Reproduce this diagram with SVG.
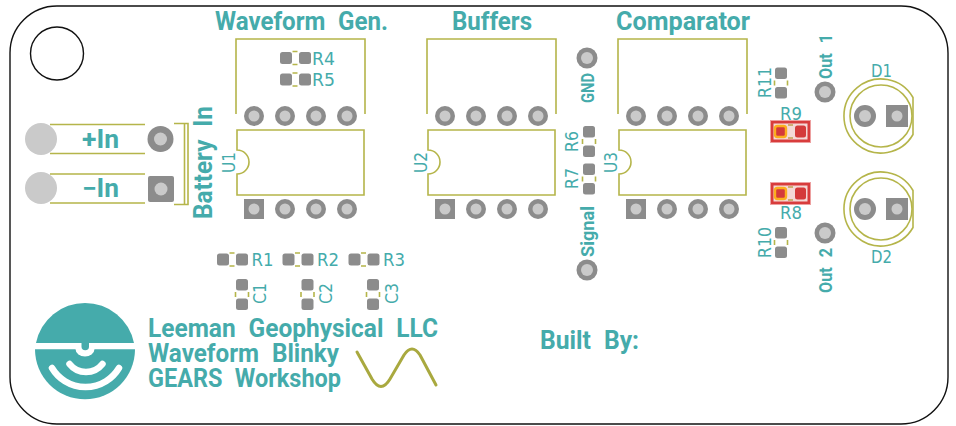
<svg xmlns="http://www.w3.org/2000/svg" width="956" height="426" viewBox="0 0 956 426">
<style>
.out{fill:none;stroke:#111;stroke-width:1.4}
.silk{fill:none;stroke:#b5b54a;stroke-width:1.6}
.wave{fill:none;stroke:#a9a93f;stroke-width:3;stroke-linecap:round;stroke-linejoin:round}
.pad{fill:#8c8c8c}
.hole{fill:#cacaca}
.t{fill:#45abab;font-family:"DejaVu Sans",sans-serif}
.b{font-weight:bold;font-family:"Roboto","Noto Sans",sans-serif;word-spacing:7px}
.big{font-size:25px}
.mid{font-size:19px}
.ref{font-size:18px}
</style>
<defs>
<g id="th"><circle r="10" class="pad"/><circle r="5.5" class="hole"/></g>
<g id="sq"><rect x="-10" y="-10" width="20" height="20" class="pad"/><circle r="5.5" class="hole"/></g>
<g id="tp"><circle r="10.5" class="pad"/><circle r="6" class="hole"/></g>
<g id="rh"><rect x="-15" y="-6" width="12" height="12" rx="2.5" class="pad"/><rect x="4" y="-6" width="12" height="12" rx="2.5" class="pad"/><path d="M-2.500 -6.500H2.500M-2.500 6.500H2.500" class="silk"/></g>
<g id="rv"><rect x="-6" y="-15.500" width="12" height="11.500" rx="2.5" class="pad"/><rect x="-6" y="4" width="12" height="11.500" rx="2.5" class="pad"/><path d="M-6.500 -2.500V2.500M6.500 -2.500V2.500" class="silk"/></g>
<g id="red"><rect x="-21" y="-11.500" width="41" height="23" fill="#eda0a0"/><rect x="-20" y="-10.500" width="39" height="21" fill="#d83c3c"/><rect x="-17.500" y="-8" width="34" height="16" fill="#f4d8d6"/><rect x="-16" y="-5.500" width="11" height="11" rx="2.500" fill="#d43a3a" stroke="#fcae1e" stroke-width="2.400"/><rect x="4" y="-6" width="11" height="12" rx="2.500" fill="#d43a3a"/><path d="M-3 -6.500H2M-3 6.500H2" stroke="#c0a050" stroke-width="1.500" fill="none"/></g>
<g id="dip">
<path d="M0 75V0H129V75" class="silk" transform="translate(-1 -128)"/>
<path d="M0 -37H127V28H0V7A12 12 0 0 0 0 -17Z" class="silk"/>
<use href="#sq" x="17" y="42"/><use href="#th" x="48" y="42"/><use href="#th" x="79" y="42"/><use href="#th" x="110" y="42"/>
<use href="#th" x="17" y="-51"/><use href="#th" x="48" y="-51"/><use href="#th" x="79" y="-51"/><use href="#th" x="110" y="-51"/>
</g>
<g id="led"><path d="M32 -18.500A37 37 0 1 0 32 18.500Z" class="silk"/><circle r="31" class="silk"/><circle cx="-16" r="11" class="pad"/><circle cx="-16" r="6" class="hole"/><rect x="5" y="-11" width="22" height="22" class="pad"/><circle cx="16" r="5.500" class="hole"/></g>
</defs>
<rect width="956" height="426" fill="#fff"/>
<g id="board">
<path d="M57 6H901A47 47 0 0 1 948 53V377A47 47 0 0 1 901 424H57A47 47 0 0 1 10 377V53A47 47 0 0 1 57 6Z" class="out"/>
<circle cx="57" cy="53.500" r="26.500" class="out"/>
</g>
<g id="connectors"></g>
<g id="U1"><use href="#dip" x="237" y="167"/><text class="t ref" transform="translate(235 173) rotate(-90)" textLength="21" lengthAdjust="spacingAndGlyphs">U1</text></g>
<g id="U2"><use href="#dip" x="428" y="167"/><text class="t ref" transform="translate(427 173) rotate(-90)" textLength="21" lengthAdjust="spacingAndGlyphs">U2</text></g>
<g id="U3"><use href="#dip" x="619" y="167"/><text class="t ref" transform="translate(617 173) rotate(-90)" textLength="21" lengthAdjust="spacingAndGlyphs">U3</text></g>
<g id="titles" class="t b big">
<text x="215" y="30" textLength="173" lengthAdjust="spacingAndGlyphs">Waveform Gen.</text>
<text x="452" y="30" textLength="80" lengthAdjust="spacingAndGlyphs">Buffers</text>
<text x="616" y="30" textLength="134" lengthAdjust="spacingAndGlyphs">Comparator</text>
</g>
<g id="battery">
<circle cx="41" cy="139" r="16" class="hole"/><circle cx="41" cy="188" r="16" class="hole"/>
<path d="M50 124.500H145M50 153.500H145M50 174H145M50 203H145M174 123.500H188V204.500H174M184.500 123.500V204.500" class="silk"/>
<circle cx="160.500" cy="139" r="13" class="pad"/><circle cx="160.500" cy="139" r="6.500" class="hole"/>
<rect x="148" y="176" width="26" height="26" rx="2" class="pad"/><circle cx="161" cy="189" r="6.500" class="hole"/>
<text class="t b big" x="82" y="148" textLength="37" lengthAdjust="spacingAndGlyphs">+In</text>
<text class="t b big" x="82" y="196.500" textLength="37" lengthAdjust="spacingAndGlyphs">−In</text>
<text class="t b big" transform="translate(212 219) rotate(-90)" textLength="113" lengthAdjust="spacingAndGlyphs">Battery In</text>
</g>
<g id="R4"><use href="#rh" x="295" y="58"/><text class="t ref" x="312" y="64.500" textLength="23" lengthAdjust="spacingAndGlyphs">R4</text></g>
<g id="R5"><use href="#rh" x="295" y="79.500"/><text class="t ref" x="312" y="86" textLength="23" lengthAdjust="spacingAndGlyphs">R5</text></g>
<g id="R1"><use href="#rh" x="232" y="259.500"/><text class="t ref" x="251.500" y="266" textLength="22" lengthAdjust="spacingAndGlyphs">R1</text></g>
<g id="R2"><use href="#rh" x="297.500" y="259.500"/><text class="t ref" x="317" y="266" textLength="22" lengthAdjust="spacingAndGlyphs">R2</text></g>
<g id="R3"><use href="#rh" x="363.500" y="259.500"/><text class="t ref" x="383" y="266" textLength="22" lengthAdjust="spacingAndGlyphs">R3</text></g>
<g id="C1"><use href="#rv" x="242" y="294.500"/><text class="t ref" transform="translate(266 304) rotate(-90)" textLength="21" lengthAdjust="spacingAndGlyphs">C1</text></g>
<g id="C2"><use href="#rv" x="307.500" y="294.500"/><text class="t ref" transform="translate(331.500 304) rotate(-90)" textLength="21" lengthAdjust="spacingAndGlyphs">C2</text></g>
<g id="C3"><use href="#rv" x="373" y="294.500"/><text class="t ref" transform="translate(398 304) rotate(-90)" textLength="21" lengthAdjust="spacingAndGlyphs">C3</text></g>
<g id="R6"><use href="#rv" x="589" y="141.500"/><text class="t ref" transform="translate(578 152) rotate(-90)" textLength="21" lengthAdjust="spacingAndGlyphs">R6</text></g>
<g id="R7"><use href="#rv" x="589" y="179"/><text class="t ref" transform="translate(578 189) rotate(-90)" textLength="21" lengthAdjust="spacingAndGlyphs">R7</text></g>
<g id="GND"><use href="#tp" x="587" y="58"/><text class="t b mid" transform="translate(594 103) rotate(-90)" textLength="30" lengthAdjust="spacingAndGlyphs">GND</text></g>
<g id="Signal"><use href="#tp" x="587" y="270"/><text class="t b mid" transform="translate(594 257) rotate(-90)" textLength="51" lengthAdjust="spacingAndGlyphs">Signal</text></g>
<g id="R11"><use href="#rv" x="781" y="83"/><text class="t ref" transform="translate(771 98) rotate(-90)" textLength="31" lengthAdjust="spacingAndGlyphs">R11</text></g>
<g id="R10"><use href="#rv" x="781" y="242.500"/><text class="t ref" transform="translate(771 258) rotate(-90)" textLength="31" lengthAdjust="spacingAndGlyphs">R10</text></g>
<g id="R9"><use href="#red" x="791" y="131.500"/><text class="t ref" x="780" y="120" textLength="22" lengthAdjust="spacingAndGlyphs">R9</text></g>
<g id="R8"><use href="#red" x="791" y="193.500"/><text class="t ref" x="780" y="219" textLength="22" lengthAdjust="spacingAndGlyphs">R8</text></g>
<g id="Out1"><use href="#tp" x="825" y="92"/><text class="t b mid" transform="translate(832 79) rotate(-90)" textLength="45" lengthAdjust="spacingAndGlyphs">Out 1</text></g>
<g id="Out2"><use href="#tp" x="825" y="233"/><text class="t b mid" transform="translate(832 293) rotate(-90)" textLength="45" lengthAdjust="spacingAndGlyphs">Out 2</text></g>
<g id="D1"><use href="#led" x="881" y="116"/><text class="t ref" x="871" y="76.500" textLength="21" lengthAdjust="spacingAndGlyphs">D1</text></g>
<g id="D2"><use href="#led" x="881" y="209"/><text class="t ref" x="871" y="263" textLength="21" lengthAdjust="spacingAndGlyphs">D2</text></g>
<g id="logo">
<path d="M36 343A50 50 0 0 1 134 343Z" fill="#45abab"/>
<path d="M35 349.300H135A50 50 0 1 1 35 349.300Z" fill="#45abab"/>
<path d="M75.500 349A9.500 7.500 0 0 0 94.500 349Z" fill="#fff"/>
<path d="M81.500 342H89V346.500A3.750 3.750 0 0 1 81.500 346.500Z" fill="#45abab"/>
<path d="M69.500 364A21 21 0 0 0 102.500 364M52 368A39 39 0 0 0 119 368" fill="none" stroke="#fff" stroke-width="6.500" stroke-linecap="round"/>
</g>
<g id="text-block" class="t b big">
<text x="148" y="337" textLength="290" lengthAdjust="spacingAndGlyphs">Leeman Geophysical LLC</text>
<text x="148" y="361.500" textLength="191" lengthAdjust="spacingAndGlyphs">Waveform Blinky</text>
<text x="148" y="386.500" textLength="193" lengthAdjust="spacingAndGlyphs">GEARS Workshop</text>
<text x="540" y="349" textLength="99" lengthAdjust="spacingAndGlyphs">Built By:</text>
</g>
<path id="wave" d="M357 352L372 379Q381 394 390 379L404 355Q412 343 420 355L436 385" class="wave"/>
</svg>
